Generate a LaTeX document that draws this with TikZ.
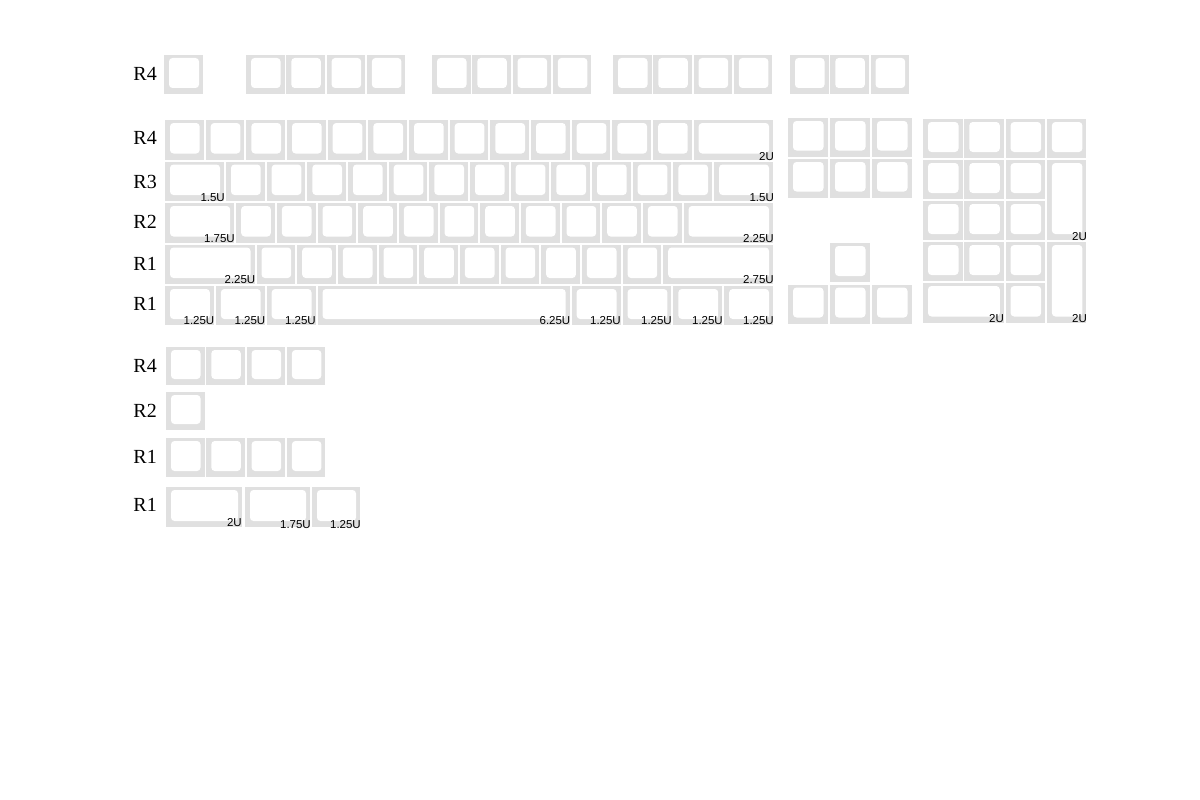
\documentclass[tikz,border=0pt]{standalone}
\usepackage{fontspec}
\setmainfont{Liberation Serif}
\newfontfamily\labfont{Liberation Sans}
\definecolor{keygray}{RGB}{224,224,224}
\tikzset{
  keyout/.style={fill=keygray},
  keyin/.style={fill=white,rounded corners=3.5},
  ulab/.style={anchor=base east,inner sep=0pt,font=\labfont\fontsize{11.5}{13}\selectfont},
  rlab/.style={anchor=east,inner sep=0pt,font=\fontsize{20}{24}\selectfont}
}
% key: x, y, w, h (px, y downward)
\newcommand\kc[4]{%
  \fill[keyout] ({#1},{#2}) rectangle ({#1+#3},{#2+#4});
  \fill[keyin] ({#1+5},{#2+3}) rectangle ({#1+#3-4},{#2+#4-6});}
% main block key: startU, y, widthU, h
\newcommand\mk[4]{\kc{165+(#1)*40.67}{#2}{(#3)*40.67-2}{#4}}
\begin{document}
\begin{tikzpicture}[x=1pt,y=-1pt]
\useasboundingbox (0,0) rectangle (1200,800);
\fill[white] (0,0) rectangle (1200,800);

% ---- top function row
\kc{164}{55}{39}{39}
\foreach \i in {0,...,3}{
  \kc{246+\i*40.3}{55}{38.5}{39}
  \kc{432+\i*40.3}{55}{38.5}{39}
  \kc{613+\i*40.3}{55}{38.5}{39}}
\foreach \i in {0,...,2}{\kc{790+\i*40.3}{55}{38.5}{39}}

% ---- main block
% number row
\foreach \i in {0,...,12}{\mk{\i}{120}{1}{39.5}}
\mk{13}{120}{2}{39.5}
% tab row
\mk{0}{161.5}{1.5}{39.5}
\foreach \i in {0,...,11}{\mk{1.5+\i}{161.5}{1}{39.5}}
\mk{13.5}{161.5}{1.5}{39.5}
% caps row
\mk{0}{203}{1.75}{39.5}
\foreach \i in {0,...,10}{\mk{1.75+\i}{203}{1}{39.5}}
\mk{12.75}{203}{2.25}{39.5}
% shift row
\mk{0}{244.5}{2.25}{39.5}
\foreach \i in {0,...,9}{\mk{2.25+\i}{244.5}{1}{39.5}}
\mk{12.25}{244.5}{2.75}{39.5}
% bottom row
\mk{0}{286}{1.25}{39}
\mk{1.25}{286}{1.25}{39}
\mk{2.5}{286}{1.25}{39}
\mk{3.75}{286}{6.25}{39}
\mk{10}{286}{1.25}{39}
\mk{11.25}{286}{1.25}{39}
\mk{12.5}{286}{1.25}{39}
\mk{13.75}{286}{1.25}{39}

% ---- navigation block
\foreach \i in {0,...,2}{
  \kc{788+\i*42}{118}{39.5}{38.5}
  \kc{788+\i*42}{159}{39.5}{38.5}
  \kc{788+\i*42}{284.5}{39.5}{39}}
\kc{830}{243}{39.5}{39}

% ---- numpad
\foreach \i in {0,...,3}{\kc{923+\i*41.3}{119}{39.5}{39}}
\foreach \i in {0,...,2}{
  \kc{923+\i*41.3}{160}{39.5}{39}
  \kc{923+\i*41.3}{201}{39.5}{39}
  \kc{923+\i*41.3}{242}{39.5}{39}}
\kc{1046.9}{160}{39.5}{80}
\kc{1046.9}{242}{39.5}{80.5}
\kc{923}{283}{80.8}{39.5}
\kc{1005.6}{283}{39.5}{39.5}

% ---- extra keys
\foreach \i in {0,...,3}{
  \kc{166+\i*40.3}{347}{38.5}{38}
  \kc{166+\i*40.3}{438}{38.5}{39}}
\kc{166}{392}{38.5}{38}
\kc{166}{487}{76}{40}
\kc{245}{487}{65}{40}
\kc{312}{487}{48}{40}

% ---- row labels
\node[rlab] (r0) at (157,74) {R4};
\node[rlab] (r1) at (157,137.5) {R4};
\node[rlab] (r2) at (157,181.5) {R3};
\node[rlab] (r3) at (157,222) {R2};
\node[rlab] (r4) at (157,263.5) {R1};
\node[rlab] (r5) at (157,304) {R1};
\node[rlab] (r6) at (157,366) {R4};
\node[rlab] (r7) at (157,410.5) {R2};
\node[rlab] (r8) at (157,457) {R1};
\node[rlab] (r9) at (157,505) {R1};

% ---- size labels
\node[ulab] (u1) at (774,160) {2U};
\node[ulab] (u2) at (225,201) {1.5U};
\node[ulab] (u3) at (774,201) {1.5U};
\node[ulab] (u4) at (235,242) {1.75U};
\node[ulab] (u5) at (774,242) {2.25U};
\node[ulab] (u6) at (255.5,283.5) {2.25U};
\node[ulab] (u7) at (774,283.5) {2.75U};
\node[ulab] (u8) at (214.5,324) {1.25U};
\node[ulab] (u9) at (265.5,324) {1.25U};
\node[ulab] (u10) at (316,324) {1.25U};
\node[ulab] (u11) at (570.5,324) {6.25U};
\node[ulab] (u12) at (621,324) {1.25U};
\node[ulab] (u13) at (672,324) {1.25U};
\node[ulab] (u14) at (723,324) {1.25U};
\node[ulab] (u15) at (774,324) {1.25U};
\node[ulab] (u16) at (1087,240) {2U};
\node[ulab] (u17) at (1087,322.5) {2U};
\node[ulab] (u18) at (1004,322.5) {2U};
\node[ulab] (u19) at (242,526) {2U};
\node[ulab] (u20) at (311,528) {1.75U};
\node[ulab] (u21) at (361,528) {1.25U};
\end{tikzpicture}
\end{document}
